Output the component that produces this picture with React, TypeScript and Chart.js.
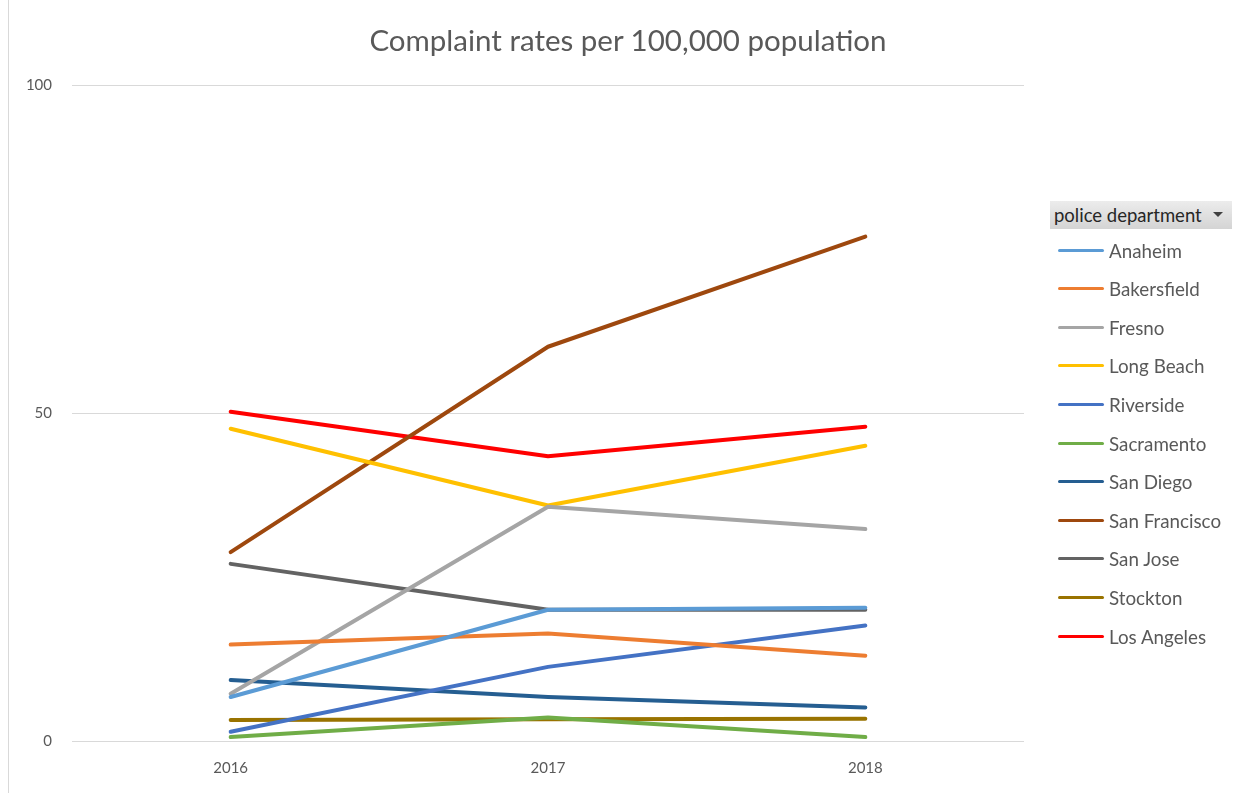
import React, { useEffect, useRef } from "react";
import { Chart, registerables } from "chart.js";

Chart.register(...registerables);

const years = ["2016", "2017", "2018"];
const departments = [
  "Anaheim",
  "Bakersfield",
  "Fresno",
  "Long Beach",
  "Riverside",
  "Sacramento",
  "San Diego",
  "San Francisco",
  "San Jose",
  "Stockton",
  "Los Angeles",
];
const anaheim = [6.7, 20.0, 20.3];
const bakersfield = [14.7, 16.4, 13.0];
const fresno = [7.2, 35.7, 32.3];
const longBeach = [47.6, 35.9, 45.0];
const riverside = [1.4, 11.3, 17.6];
const sacramento = [0.6, 3.6, 0.6];
const sanDiego = [9.3, 6.7, 5.1];
const sanFrancisco = [28.8, 60.1, 76.9];
const sanJose = [27.0, 20.0, 20.0];
const stockton = [3.2, 3.3, 3.4];
const losAngeles = [50.2, 43.4, 47.9];
const seriesValues = [
  anaheim,
  bakersfield,
  fresno,
  longBeach,
  riverside,
  sacramento,
  sanDiego,
  sanFrancisco,
  sanJose,
  stockton,
  losAngeles,
];
const colors = [
  "#5B9BD5",
  "#ED7D31",
  "#A5A5A5",
  "#FFC000",
  "#4472C4",
  "#70AD47",
  "#255E91",
  "#9E480E",
  "#636363",
  "#997300",
  "#FF0000",
];
const yTicks = [0, 50, 100];
const titleText = "Complaint rates per 100,000 population";
const legendHeader = "police department";

const FONT = "Lato, 'Open Sans', sans-serif";

export default function App() {
  const ref = useRef<HTMLCanvasElement>(null);

  useEffect(() => {
    if (!ref.current) return;
    const chart = new Chart(ref.current, {
      type: "line",
      data: {
        labels: years,
        datasets: departments.map((name, i) => ({
          label: name,
          data: seriesValues[i],
          borderColor: colors[i],
          backgroundColor: colors[i],
          borderWidth: 4,
          pointRadius: 0,
          tension: 0,
          borderCapStyle: "round" as const,
          borderJoinStyle: "round" as const,
        })),
      },
      options: {
        animation: false,
        responsive: false,
        layout: { padding: { left: 8, right: 220, top: 85, bottom: 0 } },
        plugins: {
          legend: { display: false },
          tooltip: { enabled: false },
          title: { display: false },
        },
        scales: {
          x: {
            offset: true,
            grid: { display: false, drawTicks: false },
            border: { display: false },
            ticks: {
              color: "#595959",
              font: { family: FONT, size: 15 },
              padding: 18,
            },
            afterFit: (s: any) => {
              s.height = 52;
            },
          },
          y: {
            min: 0,
            max: 100,
            afterBuildTicks: (s: any) => {
              s.ticks = yTicks.map((v) => ({ value: v }));
            },
            ticks: {
              color: "#595959",
              font: { family: FONT, size: 15 },
              padding: 20,
            },
            grid: { color: "#d9d9d9", lineWidth: 1, drawTicks: false },
            border: { display: false },
            afterFit: (s: any) => {
              s.width = 64;
            },
          },
        },
      },
    });
    return () => chart.destroy();
  }, []);

  return (
    <div
      style={{
        position: "absolute",
        left: 0,
        top: 0,
        width: 1244,
        height: 793,
        background: "#fff",
        overflow: "hidden",
      }}
    >
      <canvas
        ref={ref}
        width={1244}
        height={793}
        style={{ position: "absolute", left: 0, top: 0, display: "block" }}
      />
      <div
        style={{
          position: "absolute",
          left: 8,
          top: 0,
          width: 1,
          height: 793,
          background: "#d9d9d9",
        }}
      />
      <div
        style={{
          position: "absolute",
          left: 328,
          top: 22,
          width: 600,
          height: 36,
          lineHeight: "36px",
          textAlign: "center",
          fontFamily: FONT,
          fontSize: 29.5,
          color: "#595959",
          whiteSpace: "nowrap",
        }}
      >
        {titleText}
      </div>
      <div
        style={{
          position: "absolute",
          left: 1050,
          top: 201,
          width: 182,
          height: 28,
          boxSizing: "border-box",
          background: "linear-gradient(#ececec, #d4d4d4)",
          fontFamily: FONT,
          fontSize: 18.5,
          color: "#262626",
          lineHeight: "28px",
          paddingLeft: 4,
          whiteSpace: "nowrap",
        }}
      >
        {legendHeader}
        <span
          style={{
            position: "absolute",
            right: 9,
            top: 11,
            width: 0,
            height: 0,
            borderLeft: "5px solid transparent",
            borderRight: "5px solid transparent",
            borderTop: "5px solid #404040",
          }}
        />
      </div>
      {departments.map((name, i) => (
        <div
          key={name}
          style={{
            position: "absolute",
            left: 1058,
            top: 250 + i * 38.6 - 12,
            height: 24,
            display: "flex",
            alignItems: "center",
            fontFamily: FONT,
            fontSize: 18.8,
            color: "#595959",
            whiteSpace: "nowrap",
          }}
        >
          <span
            style={{
              display: "inline-block",
              width: 46,
              height: 3,
              borderRadius: 2,
              background: colors[i],
              marginRight: 5,
            }}
          />
          {name}
        </div>
      ))}
    </div>
  );
}
